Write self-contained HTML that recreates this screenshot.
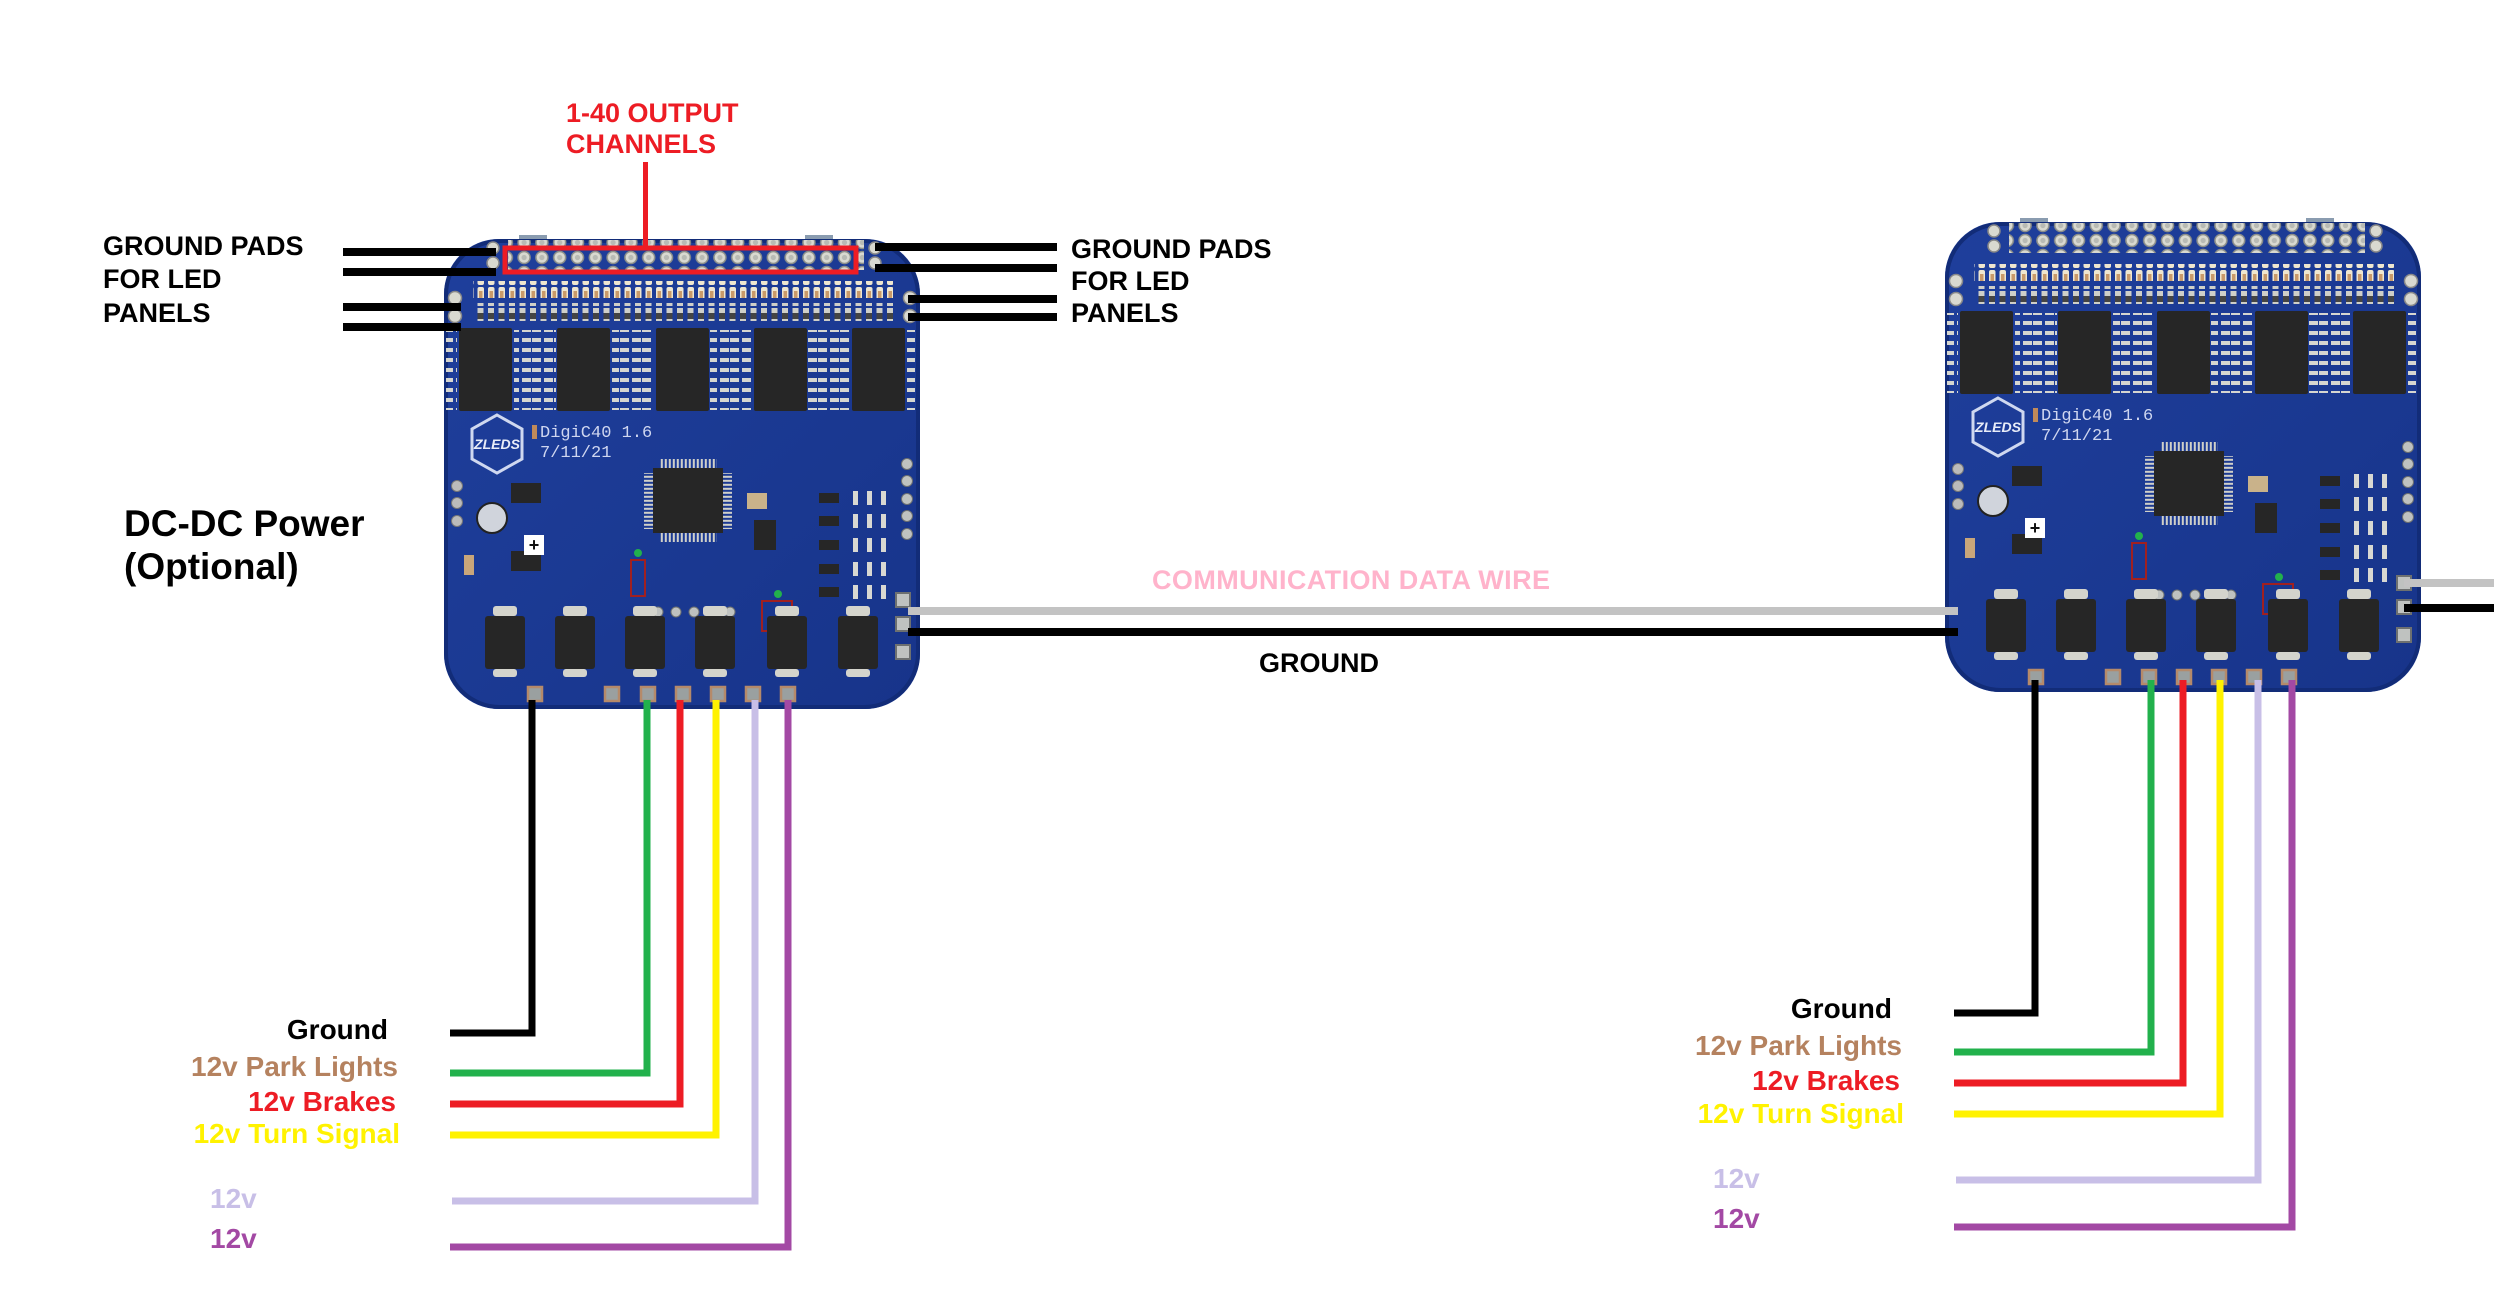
<!DOCTYPE html>
<html><head><meta charset="utf-8"><style>
html,body{margin:0;padding:0;background:#fff;}
svg{display:block;}
text{font-family:"Liberation Sans",Arial,sans-serif;font-weight:bold;}
</style></head><body>
<svg width="2494" height="1298" viewBox="0 0 2494 1298" xmlns="http://www.w3.org/2000/svg">
<defs>
  <pattern id="holes" x="0" y="0" width="17.8" height="15" patternUnits="userSpaceOnUse">
    <circle cx="8.9" cy="7.5" r="6" fill="#d9d9d0" stroke="#8c8f8a" stroke-width="1.5"/>
    <circle cx="8.9" cy="7.5" r="2.6" fill="#b8bab4"/>
  </pattern>
  <pattern id="lpads" x="0" y="0" width="10.5" height="17" patternUnits="userSpaceOnUse">
    <rect x="2" y="1" width="6.5" height="15" rx="2" fill="#efe6cf"/>
    <rect x="3.5" y="5" width="3.5" height="7" fill="#c99a6a"/>
  </pattern>
  <pattern id="scomp" x="0" y="0" width="10.5" height="18" patternUnits="userSpaceOnUse">
    <rect x="2" y="1" width="6" height="5" fill="#cfcfc8"/>
    <rect x="2" y="6" width="6" height="6" fill="#444"/>
    <rect x="2" y="12" width="6" height="5" fill="#cfcfc8"/>
  </pattern>
  <pattern id="pins" x="0" y="0" width="22" height="10" patternUnits="userSpaceOnUse">
    <rect x="0" y="3" width="9" height="4" fill="#d6d6d0"/>
    <rect x="12" y="3" width="9" height="4" fill="#d6d6d0"/>
  </pattern>
  <pattern id="qpins" x="0" y="0" width="4" height="10" patternUnits="userSpaceOnUse">
    <rect x="0.8" y="0" width="2" height="10" fill="#d0d0c8"/>
  </pattern>
  <pattern id="qpinsv" x="0" y="0" width="10" height="4" patternUnits="userSpaceOnUse">
    <rect x="0" y="0.8" width="10" height="2" fill="#d0d0c8"/>
  </pattern>
  <linearGradient id="bg" x1="0" y1="0" x2="1" y2="1">
    <stop offset="0" stop-color="#1f3f9c"/><stop offset="1" stop-color="#17348a"/>
  </linearGradient>
  <g id="board">
    <rect x="75" y="0" width="28" height="6" fill="#8a9cb0"/>
    <rect x="361" y="0" width="28" height="6" fill="#8a9cb0"/>
    <rect x="0" y="4" width="476" height="470" rx="55" fill="url(#bg)"/>
    <rect x="2" y="6" width="472" height="466" rx="54" fill="none" stroke="#122c78" stroke-width="4"/>
    <rect x="64" y="5" width="356" height="15" fill="url(#holes)"/>
    <rect x="64" y="20" width="356" height="15" fill="url(#holes)"/>
    <circle cx="49" cy="13" r="6" fill="#d9d9d0" stroke="#888" stroke-width="1.5"/>
    <circle cx="49" cy="28" r="6" fill="#d9d9d0" stroke="#888" stroke-width="1.5"/>
    <circle cx="431" cy="13" r="6" fill="#d9d9d0" stroke="#888" stroke-width="1.5"/>
    <circle cx="431" cy="28" r="6" fill="#d9d9d0" stroke="#888" stroke-width="1.5"/>
    <circle cx="11" cy="63" r="6.5" fill="#d9d9d0" stroke="#888" stroke-width="1.5"/>
    <circle cx="11" cy="81" r="6.5" fill="#d9d9d0" stroke="#888" stroke-width="1.5"/>
    <circle cx="466" cy="63" r="6.5" fill="#d9d9d0" stroke="#888" stroke-width="1.5"/>
    <circle cx="466" cy="81" r="6.5" fill="#d9d9d0" stroke="#888" stroke-width="1.5"/>
    <rect x="29" y="46" width="420" height="17" fill="url(#lpads)"/>
    <rect x="29" y="68" width="420" height="18" fill="url(#scomp)"/>
    <g fill="#262626">
      <rect x="15" y="93" width="53" height="83" rx="2"/>
      <rect x="113" y="93" width="53" height="83" rx="2"/>
      <rect x="212" y="93" width="53" height="83" rx="2"/>
      <rect x="310" y="93" width="53" height="83" rx="2"/>
      <rect x="408" y="93" width="53" height="83" rx="2"/>
    </g>
    <g>
      <rect x="2" y="95" width="11" height="80" fill="url(#pins)"/>
      <rect x="70" y="95" width="22" height="80" fill="url(#pins)"/>
      <rect x="90" y="95" width="22" height="80" fill="url(#pins)"/>
      <rect x="168" y="95" width="22" height="80" fill="url(#pins)"/>
      <rect x="188" y="95" width="22" height="80" fill="url(#pins)"/>
      <rect x="266" y="95" width="22" height="80" fill="url(#pins)"/>
      <rect x="286" y="95" width="22" height="80" fill="url(#pins)"/>
      <rect x="364" y="95" width="22" height="80" fill="url(#pins)"/>
      <rect x="385" y="95" width="22" height="80" fill="url(#pins)"/>
      <rect x="463" y="95" width="11" height="80" fill="url(#pins)"/>
    </g>
    <rect x="88" y="190" width="5" height="14" fill="#c08a5a"/>
    <polygon points="53,180 78,194 78,224 53,238 28,224 28,194" fill="none" stroke="#cfd8f0" stroke-width="3"/>
    <text x="53" y="214" font-size="14" fill="#e8ecf8" text-anchor="middle" font-style="italic">ZLEDS</text>
    <text x="96" y="202" font-size="17" fill="#cfd6f0" style="font-family:'Liberation Mono',monospace;font-weight:normal">DigiC40 1.6</text>
    <text x="96" y="222" font-size="17" fill="#cfd6f0" style="font-family:'Liberation Mono',monospace;font-weight:normal">7/11/21</text>
    <rect x="209" y="233" width="70" height="65" fill="#262626"/>
    <rect x="215" y="224" width="58" height="9" fill="url(#qpins)"/>
    <rect x="215" y="298" width="58" height="9" fill="url(#qpins)"/>
    <rect x="200" y="238" width="9" height="56" fill="url(#qpinsv)"/>
    <rect x="279" y="238" width="9" height="56" fill="url(#qpinsv)"/>
    <rect x="303" y="258" width="20" height="16" fill="#c9b28a"/>
    <rect x="310" y="285" width="22" height="30" fill="#262626"/>
    <circle cx="13" cy="251" r="5.5" fill="#bbb" stroke="#777"/>
    <circle cx="13" cy="268" r="5.5" fill="#bbb" stroke="#777"/>
    <circle cx="13" cy="286" r="5.5" fill="#bbb" stroke="#777"/>
    <circle cx="48" cy="283" r="15" fill="#d0d4dc" stroke="#222" stroke-width="2"/>
    <rect x="67" y="248" width="30" height="20" fill="#262626"/>
    <rect x="67" y="316" width="30" height="20" fill="#262626"/>
    <rect x="80" y="300" width="20" height="20" fill="#fff"/>
    <text x="90" y="316" font-size="18" fill="#111" text-anchor="middle">+</text>
    <rect x="20" y="320" width="10" height="20" fill="#c9a67a"/>
    <rect x="187" y="325" width="14" height="36" fill="none" stroke="#a02020" stroke-width="2"/>
    <circle cx="194" cy="318" r="4" fill="#22b14c"/>
    <rect x="318" y="366" width="30" height="30" fill="none" stroke="#a02020" stroke-width="2"/>
    <circle cx="334" cy="359" r="4" fill="#22b14c"/>
    <g fill="#bfc2c0" stroke="#6d7070">
      <circle cx="197" cy="377" r="5"/><circle cx="214" cy="377" r="5"/><circle cx="232" cy="377" r="5"/>
      <circle cx="250" cy="377" r="5"/><circle cx="268" cy="377" r="5"/><circle cx="286" cy="377" r="5"/>
    </g>
    <g fill="#262626">
      <rect x="375" y="258" width="20" height="10"/><rect x="375" y="281" width="20" height="10"/>
      <rect x="375" y="305" width="20" height="10"/><rect x="375" y="329" width="20" height="10"/>
      <rect x="375" y="352" width="20" height="10"/>
    </g>
    <g fill="#d8d8d2">
      <rect x="409" y="256" width="5" height="14"/><rect x="423" y="256" width="5" height="14"/><rect x="437" y="256" width="5" height="14"/>
      <rect x="409" y="279" width="5" height="14"/><rect x="423" y="279" width="5" height="14"/><rect x="437" y="279" width="5" height="14"/>
      <rect x="409" y="303" width="5" height="14"/><rect x="423" y="303" width="5" height="14"/><rect x="437" y="303" width="5" height="14"/>
      <rect x="409" y="327" width="5" height="14"/><rect x="423" y="327" width="5" height="14"/><rect x="437" y="327" width="5" height="14"/>
      <rect x="409" y="350" width="5" height="14"/><rect x="423" y="350" width="5" height="14"/><rect x="437" y="350" width="5" height="14"/>
    </g>
    <g fill="#bfc2c0" stroke="#6d7070">
      <circle cx="463" cy="229" r="5.5"/><circle cx="463" cy="246" r="5.5"/><circle cx="463" cy="264" r="5.5"/>
      <circle cx="463" cy="281" r="5.5"/><circle cx="463" cy="299" r="5.5"/>
    </g>
    <g fill="#bfc2c0" stroke="#6d7070" stroke-width="2">
      <rect x="452" y="358" width="14" height="14"/><rect x="452" y="382" width="14" height="14"/><rect x="452" y="410" width="14" height="14"/>
    </g>
    <g>
      <g transform="translate(41,0)"><rect x="8" y="371" width="24" height="10" rx="3" fill="#d4d4cc"/><rect x="0" y="381" width="40" height="53" rx="3" fill="#262626"/><rect x="8" y="434" width="24" height="8" rx="3" fill="#d4d4cc"/></g>
      <g transform="translate(111,0)"><rect x="8" y="371" width="24" height="10" rx="3" fill="#d4d4cc"/><rect x="0" y="381" width="40" height="53" rx="3" fill="#262626"/><rect x="8" y="434" width="24" height="8" rx="3" fill="#d4d4cc"/></g>
      <g transform="translate(181,0)"><rect x="8" y="371" width="24" height="10" rx="3" fill="#d4d4cc"/><rect x="0" y="381" width="40" height="53" rx="3" fill="#262626"/><rect x="8" y="434" width="24" height="8" rx="3" fill="#d4d4cc"/></g>
      <g transform="translate(251,0)"><rect x="8" y="371" width="24" height="10" rx="3" fill="#d4d4cc"/><rect x="0" y="381" width="40" height="53" rx="3" fill="#262626"/><rect x="8" y="434" width="24" height="8" rx="3" fill="#d4d4cc"/></g>
      <g transform="translate(323,0)"><rect x="8" y="371" width="24" height="10" rx="3" fill="#d4d4cc"/><rect x="0" y="381" width="40" height="53" rx="3" fill="#262626"/><rect x="8" y="434" width="24" height="8" rx="3" fill="#d4d4cc"/></g>
      <g transform="translate(394,0)"><rect x="8" y="371" width="24" height="10" rx="3" fill="#d4d4cc"/><rect x="0" y="381" width="40" height="53" rx="3" fill="#262626"/><rect x="8" y="434" width="24" height="8" rx="3" fill="#d4d4cc"/></g>
    </g>
    <g fill="#9aa0a0" stroke="#b58a6a" stroke-width="2.5">
      <rect x="84" y="452" width="14" height="14"/><rect x="161" y="452" width="14" height="14"/>
      <rect x="197" y="452" width="14" height="14"/><rect x="232" y="452" width="14" height="14"/>
      <rect x="267" y="452" width="14" height="14"/><rect x="302" y="452" width="14" height="14"/>
      <rect x="337" y="452" width="14" height="14"/>
    </g>
  </g>
</defs>

<use href="#board" transform="translate(444,235)"/>
<use href="#board" transform="translate(1945,218)"/>

<text x="566" y="122" font-size="27" fill="#ed1c24">1-40 OUTPUT</text>
<text x="566" y="153" font-size="27" fill="#ed1c24">CHANNELS</text>
<rect x="643" y="162" width="5" height="86" fill="#ed1c24"/>
<rect x="505" y="248" width="351" height="24" fill="none" stroke="#ed1c24" stroke-width="5"/>

<g fill="#000">
  <rect x="343" y="248" width="153" height="8"/>
  <rect x="343" y="268" width="153" height="8"/>
  <rect x="343" y="303" width="118" height="8"/>
  <rect x="343" y="323" width="118" height="8"/>
  <rect x="875" y="243" width="182" height="8"/>
  <rect x="875" y="264" width="182" height="8"/>
  <rect x="908" y="295" width="149" height="8"/>
  <rect x="908" y="313" width="149" height="8"/>
</g>
<text x="103" y="255" font-size="27">GROUND PADS</text>
<text x="103" y="288" font-size="27">FOR LED</text>
<text x="103" y="322" font-size="27">PANELS</text>
<text x="1071" y="258" font-size="27">GROUND PADS</text>
<text x="1071" y="290" font-size="27">FOR LED</text>
<text x="1071" y="322" font-size="27">PANELS</text>

<text x="124" y="536" font-size="37">DC-DC Power</text>
<text x="124" y="579" font-size="37">(Optional)</text>

<text x="1152" y="589" font-size="27" fill="#ffb3cb" textLength="398">COMMUNICATION DATA WIRE</text>
<rect x="908" y="607" width="1050" height="8" fill="#c3c3c3"/>
<rect x="908" y="628" width="1050" height="8" fill="#000"/>
<text x="1259" y="672" font-size="27" textLength="120">GROUND</text>
<rect x="2404" y="579" width="90" height="8" fill="#c3c3c3"/>
<rect x="2404" y="604" width="90" height="8" fill="#000"/>

<g fill="none" stroke-width="7" stroke-linejoin="miter">
  <polyline points="532,700 532,1033 450,1033" stroke="#000"/>
  <polyline points="647,700 647,1073 450,1073" stroke="#22b14c"/>
  <polyline points="680,700 680,1104 450,1104" stroke="#ed1c24"/>
  <polyline points="716,700 716,1135 450,1135" stroke="#fff200"/>
  <polyline points="755,700 755,1201 452,1201" stroke="#c8bfe7"/>
  <polyline points="788,700 788,1247 450,1247" stroke="#a349a4"/>
</g>
<g font-size="28" text-anchor="end">
  <text x="388" y="1039" fill="#000">Ground</text>
  <text x="398" y="1076" fill="#b5825f">12v Park Lights</text>
  <text x="396" y="1111" fill="#ed1c24">12v Brakes</text>
  <text x="400" y="1143" fill="#fff200">12v Turn Signal</text>
</g>
<text x="210" y="1208" font-size="28" fill="#c8bfe7">12v</text>
<text x="210" y="1248" font-size="28" fill="#a349a4">12v</text>

<g fill="none" stroke-width="7" stroke-linejoin="miter">
  <polyline points="2035,680 2035,1013 1954,1013" stroke="#000"/>
  <polyline points="2151,680 2151,1052 1954,1052" stroke="#22b14c"/>
  <polyline points="2183,680 2183,1083 1954,1083" stroke="#ed1c24"/>
  <polyline points="2220,680 2220,1114 1954,1114" stroke="#fff200"/>
  <polyline points="2258,680 2258,1180 1956,1180" stroke="#c8bfe7"/>
  <polyline points="2292,680 2292,1227 1954,1227" stroke="#a349a4"/>
</g>
<g font-size="28" text-anchor="end">
  <text x="1892" y="1018" fill="#000">Ground</text>
  <text x="1902" y="1055" fill="#b5825f">12v Park Lights</text>
  <text x="1900" y="1090" fill="#ed1c24">12v Brakes</text>
  <text x="1904" y="1123" fill="#fff200">12v Turn Signal</text>
</g>
<text x="1713" y="1188" font-size="28" fill="#c8bfe7">12v</text>
<text x="1713" y="1228" font-size="28" fill="#a349a4">12v</text>
</svg>
</body></html>
